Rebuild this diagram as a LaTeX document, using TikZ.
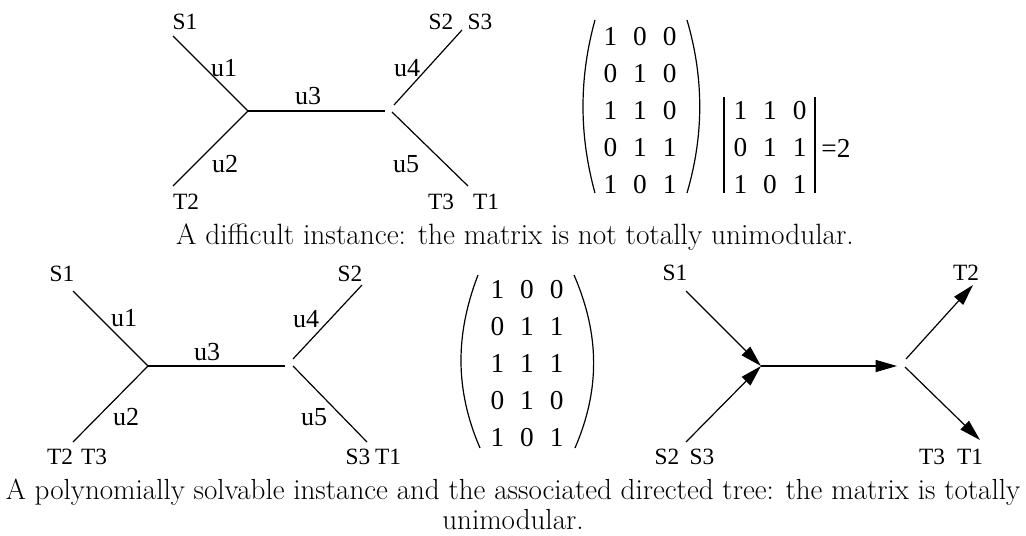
\documentclass[tikz,border=0pt]{standalone}
\usepackage{fontspec}
\setmainfont{Liberation Serif}
\newfontfamily\capfont{lmroman17-regular}[Extension=.otf]
\usetikzlibrary{arrows.meta}

\begin{document}
\begin{tikzpicture}[x=0.75pt,y=0.75pt,yscale=-1,xscale=1,
  lbl/.style={inner sep=0pt,font=\fontsize{17.5}{20}\selectfont},
  ulbl/.style={inner sep=0pt,font=\fontsize{19.5}{22}\selectfont},
  edge/.style={line width=0.9pt},
  arr/.style={edge,-{Triangle[length=16pt,width=9pt]}},
  paren/.style={line width=0.9pt},
  mat/.style={inner sep=0pt,font=\fontsize{20.5}{27.75}\selectfont},
  caption/.style={inner sep=0pt,font=\capfont\fontsize{22}{22}\selectfont,align=center}]
\useasboundingbox (0,0) rectangle (1026,536);

%Coordinates: difficult instance
\coordinate (aS1) at (173,36);
\coordinate (aJ1) at (248,111);
\coordinate (aT2) at (173,186);
\coordinate (aJ2) at (385,111);
\coordinate (aJ4) at (394,105);
\coordinate (aS2) at (462,30);
\coordinate (aJ5) at (392,112);
\coordinate (aT1) at (468,186);
%Straight Lines
\draw [edge] (aS1) -- (aJ1);
\draw [edge] (aT2) -- (aJ1);
\draw [edge] (aJ1) -- (aJ2);
\draw [edge] (aJ4) -- (aS2);
\draw [edge] (aJ5) -- (aT1);

% Text Node
\node [lbl] (aLS1) at (185,22) {S1};
\node [lbl] (aLS2) at (441,22) {S2};
\node [lbl] (aLS3) at (480,22) {S3};
\node [lbl] (aLT2) at (186,202) {T2};
\node [lbl] (aLT3) at (441,202) {T3};
\node [lbl] (aLT1) at (486,202) {T1};
\node [ulbl] (aU1) at (224,68) {u1};
\node [ulbl] (aU2) at (225,164) {u2};
\node [ulbl] (aU3) at (308,96) {u3};
\node [ulbl] (aU4) at (407,68) {u4};
\node [ulbl] (aU5) at (406,164) {u5};

%Matrix and determinant
\node [mat] (mA) at (640,112.5) {\setlength{\tabcolsep}{6pt}\begin{tabular}{@{}ccc@{}}1&0&0\\0&1&0\\1&1&0\\0&1&1\\1&0&1\end{tabular}};
\draw [paren] (595,20) .. controls (579,78) and (579,135) .. (595,193);
\draw [paren] (687,20) .. controls (704,78) and (704,135) .. (687,193);
\node [mat] (mB) at (770,149.5) {\setlength{\tabcolsep}{6pt}\begin{tabular}{@{}ccc@{}}1&1&0\\0&1&1\\1&0&1\end{tabular}};
\draw [paren] (724,97) -- (724,193);
\draw [paren] (815,97) -- (815,193);
\node [mat] (mEq) at (836,148) {=2};

% Text Node
\node [caption,anchor=base] (capA) at (515,244) {A difficult instance: the matrix is not totally unimodular.};

%Coordinates: solvable instance
\coordinate (bS1) at (73,291);
\coordinate (bJ1) at (148,366);
\coordinate (bT2) at (73,442);
\coordinate (bJ2) at (285,366);
\coordinate (bJ4) at (293,359);
\coordinate (bS2) at (362,285);
\coordinate (bJ5) at (293,366);
\coordinate (bT1) at (367,442);
%Straight Lines
\draw [edge] (bS1) -- (bJ1);
\draw [edge] (bT2) -- (bJ1);
\draw [edge] (bJ1) -- (bJ2);
\draw [edge] (bJ4) -- (bS2);
\draw [edge] (bJ5) -- (bT1);

% Text Node
\node [lbl] (bLS1) at (62,274) {S1};
\node [lbl] (bLS2) at (350,274) {S2};
\node [lbl] (bLT2) at (60,457) {T2};
\node [lbl] (bLT3) at (94,457) {T3};
\node [lbl] (bLS3) at (358,457) {S3};
\node [lbl] (bLT1) at (388,457) {T1};
\node [ulbl] (bU1) at (124,318) {u1};
\node [ulbl] (bU2) at (126,417) {u2};
\node [ulbl] (bU3) at (207,352) {u3};
\node [ulbl] (bU4) at (306,319) {u4};
\node [ulbl] (bU5) at (314,417) {u5};

%Matrix
\node [mat] (mC) at (527,365.5) {\setlength{\tabcolsep}{6pt}\begin{tabular}{@{}ccc@{}}1&0&0\\0&1&1\\1&1&1\\0&1&0\\1&0&1\end{tabular}};
\draw [paren] (478,275) .. controls (455,335) and (455,390) .. (480,448);
\draw [paren] (574,275) .. controls (600,335) and (600,390) .. (575,448);

%Coordinates: directed tree
\coordinate (cS1) at (686,291);
\coordinate (cS2) at (686,442);
\coordinate (cJ1) at (761,366);
\coordinate (cJ2) at (897,366);
\coordinate (cJ4) at (906,359);
\coordinate (cT2) at (973,285);
\coordinate (cJ5) at (905,367);
\coordinate (cT1) at (980,440);
%Arrows
\draw [arr] (cS1) -- (cJ1);
\draw [arr] (cS2) -- (cJ1);
\draw [arr] (cJ1) -- (cJ2);
\draw [arr] (cJ4) -- (cT2);
\draw [arr] (cJ5) -- (cT1);

% Text Node
\node [lbl] (cLS1) at (675,273) {S1};
\node [lbl] (cLT2) at (966,273) {T2};
\node [lbl] (cLS2) at (667,457) {S2};
\node [lbl] (cLS3) at (702,457) {S3};
\node [lbl] (cLT3) at (932,457) {T3};
\node [lbl] (cLT1) at (970,457) {T1};

% Text Node
\node [caption,anchor=north,font=\capfont\fontsize{21.8}{22}\selectfont] (capB) at (513,479) {A polynomially solvable instance and the associated directed tree: the matrix is totally\\unimodular.};

\end{tikzpicture}
\end{document}
